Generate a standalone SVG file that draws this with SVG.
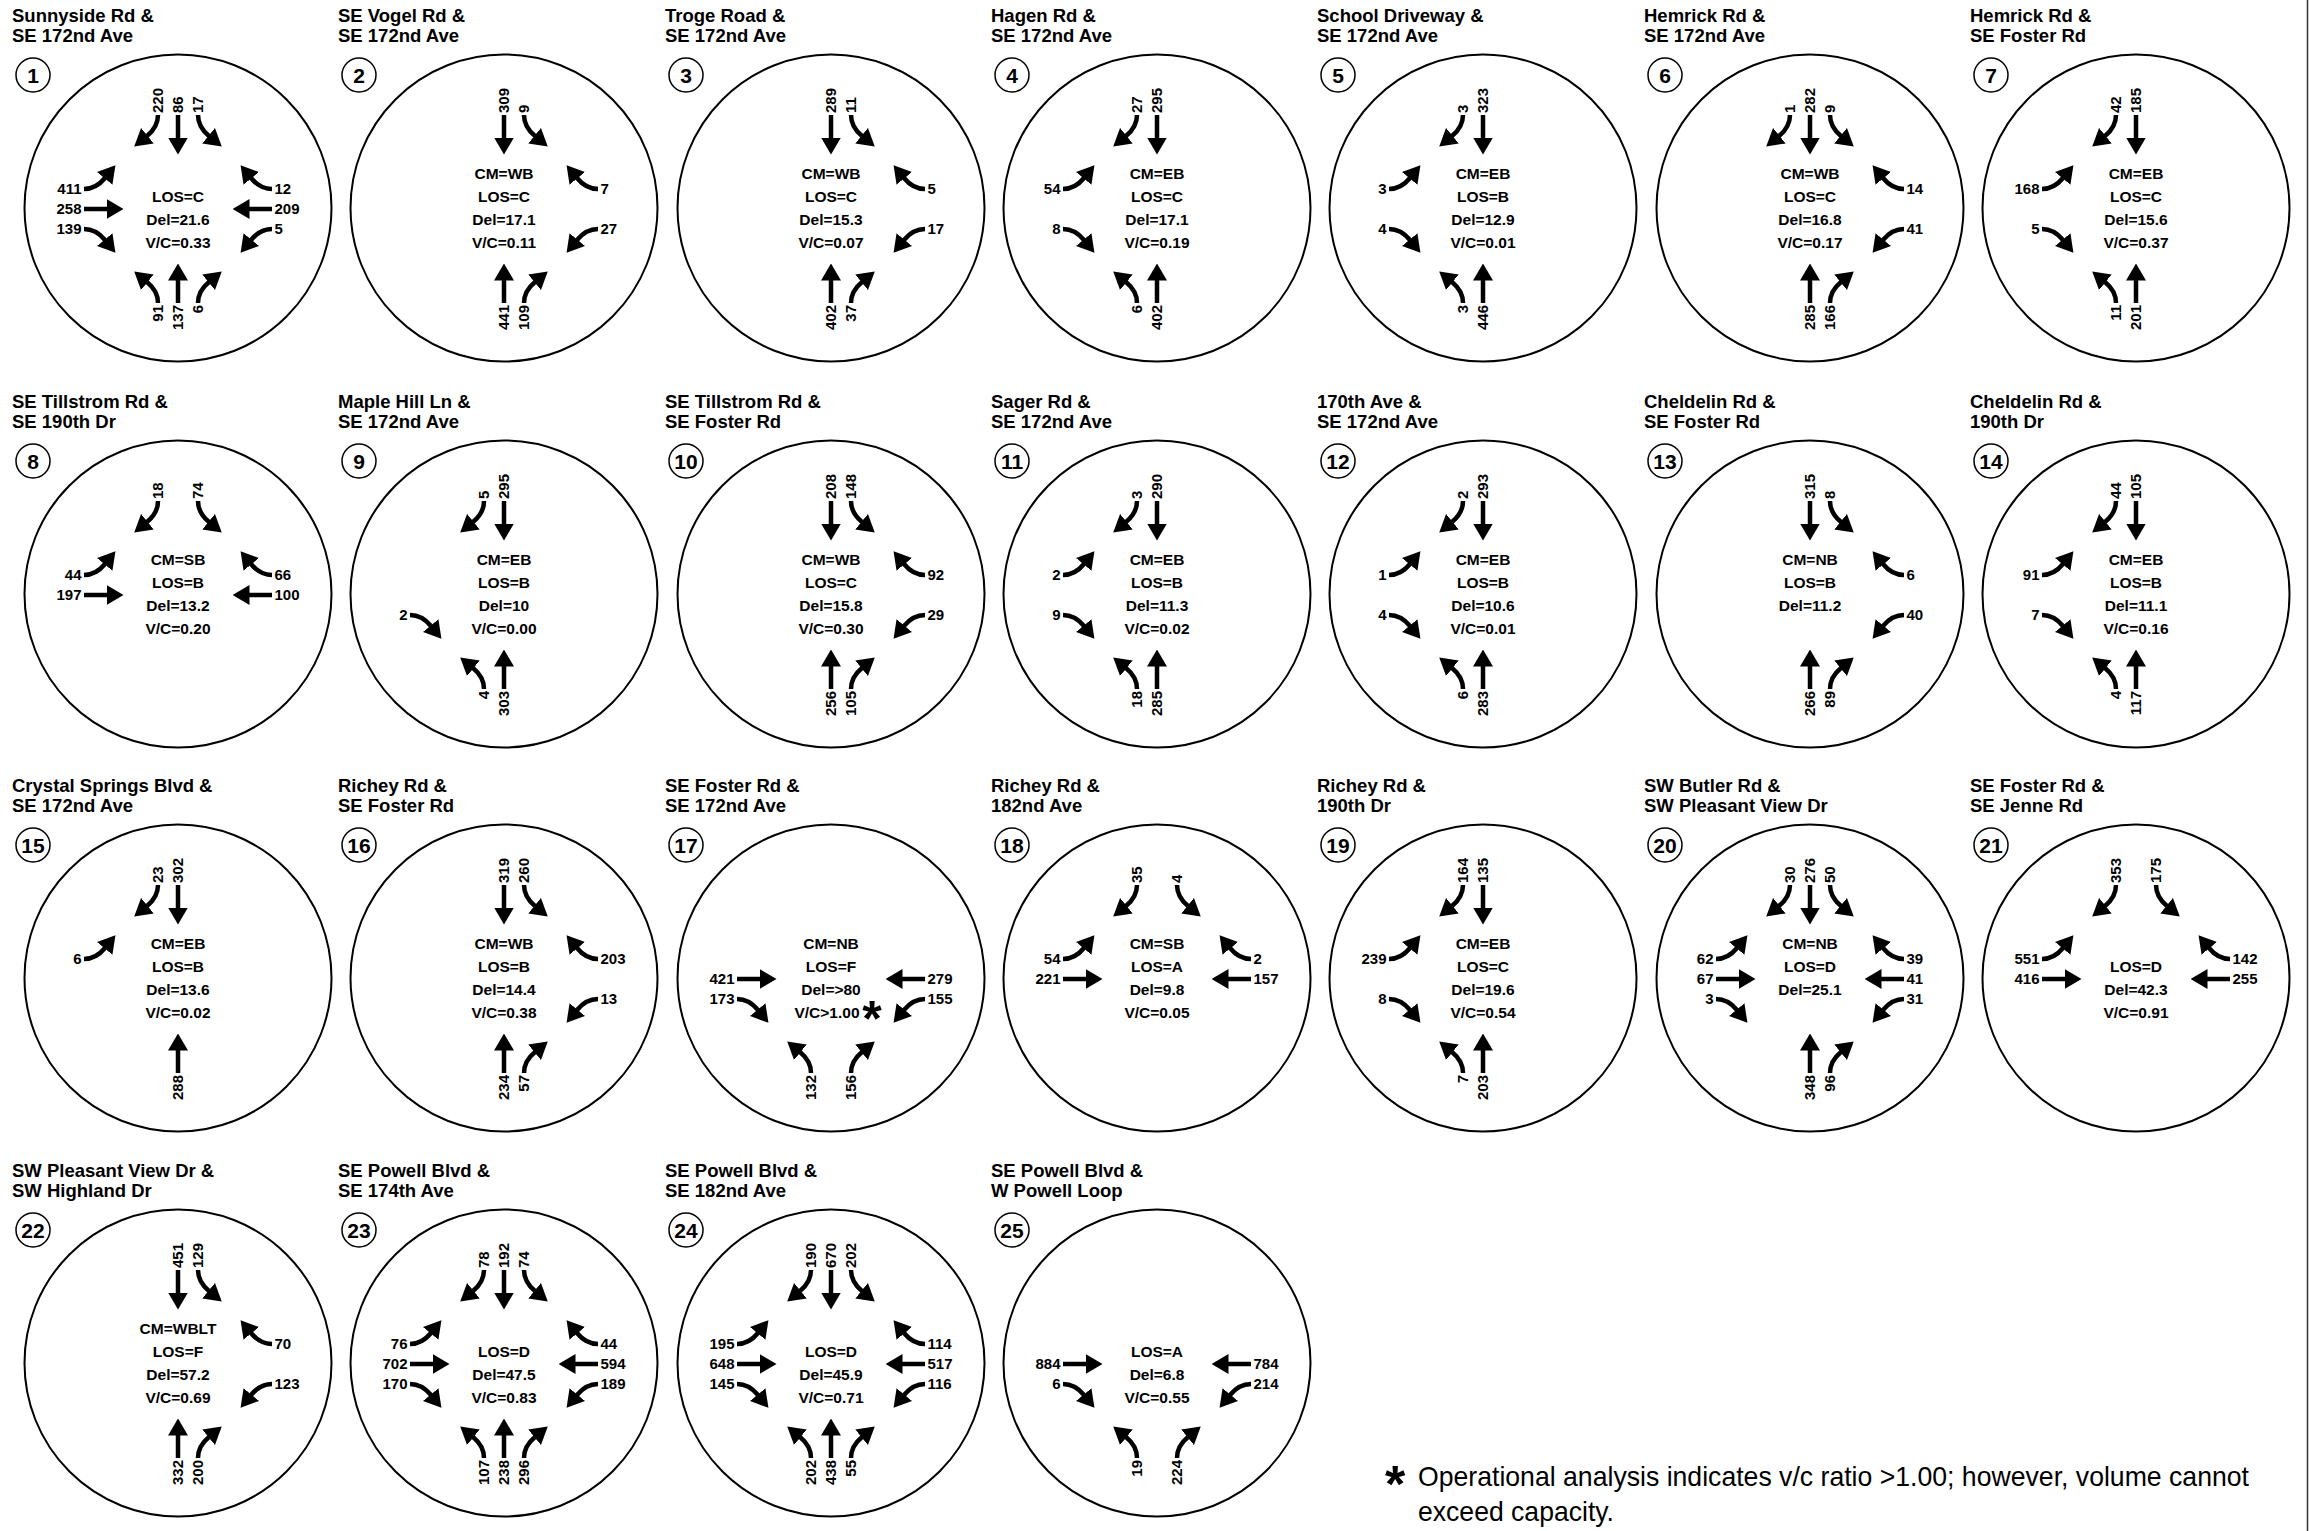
<svg xmlns="http://www.w3.org/2000/svg" xmlns:xlink="http://www.w3.org/1999/xlink" width="2309" height="1531" viewBox="0 0 2309 1531">
<style>
text{font-family:"Liberation Sans",Arial,Helvetica,sans-serif;font-weight:bold;fill:#000}
.t{font-size:18.5px}
.c{font-size:15.5px;text-anchor:middle}
.l{font-size:15px}
.e{text-anchor:end}
.n{font-size:21px;text-anchor:middle}
.ring{fill:none;stroke:#000;stroke-width:2}
.badge{fill:none;stroke:#000;stroke-width:1.5}
.ar{fill:none;stroke:#000;stroke-width:4.5;marker-end:url(#ah)}
.fn{font-weight:normal;font-size:28px}
.ast{text-anchor:middle}
</style>
<defs>
<marker id="ah" viewBox="0 0 17 20" markerWidth="17" markerHeight="20" refX="0.5" refY="10" orient="auto" markerUnits="userSpaceOnUse"><path d="M0,0 L17,10 L0,20 z" fill="#000"/></marker>
<path id="Na" d="M-20,-94 Q-20,-82 -31,-73"/>
<path id="Nt" d="M0,-94 L0,-71"/>
<path id="Nb" d="M20,-94 Q20,-82 31,-73"/>
<path id="Sa" d="M-20,94 Q-20,82 -31,73"/>
<path id="St" d="M0,94 L0,71"/>
<path id="Sb" d="M20,94 Q20,82 31,73"/>
<path id="Wa" d="M-94,-20 Q-82,-20 -73,-31"/>
<path id="Wt" d="M-94,0 L-71,0"/>
<path id="Wb" d="M-94,20 Q-82,20 -73,31"/>
<path id="Ea" d="M94,-20 Q82,-20 73,-31"/>
<path id="Et" d="M94,0 L71,0"/>
<path id="Eb" d="M94,20 Q82,20 73,31"/>
</defs>
<rect width="2309" height="1531" fill="#fff"/>
<line x1="2307.5" y1="0" x2="2307.5" y2="1531" stroke="#333" stroke-width="1.5"/>
<g id="nodes">

<g id="node1" transform="translate(178,208)">
<circle class="ring" r="153.5"/>
<text class="t" x="-166" y="-186">Sunnyside Rd &amp;</text><text class="t" x="-166" y="-166.5">SE 172nd Ave</text>
<circle class="badge" cx="-145" cy="-133" r="17"/><text class="n" x="-145" y="-125.5">1</text>
<text class="c" y="-6">LOS=C</text><text class="c" y="17">Del=21.6</text><text class="c" y="40">V/C=0.33</text>
<g class="ar" transform="translate(0,1)"><use href="#Na"/><use href="#Nt"/><use href="#Nb"/><use href="#Wa"/><use href="#Wt"/><use href="#Wb"/><use href="#Ea"/><use href="#Et"/><use href="#Eb"/><use href="#Sa"/><use href="#St"/><use href="#Sb"/></g>
<text class="l" transform="translate(-14.7,-95) rotate(-90)">220</text><text class="l" transform="translate(5.3,-95) rotate(-90)">86</text><text class="l" transform="translate(25.3,-95) rotate(-90)">17</text>
<text class="l e" x="-96.5" y="-13.7">411</text><text class="l e" x="-96.5" y="6.3">258</text><text class="l e" x="-96.5" y="26.3">139</text>
<text class="l" x="96.5" y="-13.7">12</text><text class="l" x="96.5" y="6.3">209</text><text class="l" x="96.5" y="26.3">5</text>
<text class="l e" transform="translate(-14.7,97) rotate(-90)">91</text><text class="l e" transform="translate(5.3,97) rotate(-90)">137</text><text class="l e" transform="translate(25.3,97) rotate(-90)">6</text>
</g>

<g id="node2" transform="translate(504,208)">
<circle class="ring" r="153.5"/>
<text class="t" x="-166" y="-186">SE Vogel Rd &amp;</text><text class="t" x="-166" y="-166.5">SE 172nd Ave</text>
<circle class="badge" cx="-145" cy="-133" r="17"/><text class="n" x="-145" y="-125.5">2</text>
<text class="c" y="-29">CM=WB</text><text class="c" y="-6">LOS=C</text><text class="c" y="17">Del=17.1</text><text class="c" y="40">V/C=0.11</text>
<g class="ar" transform="translate(0,1)"><use href="#Nt"/><use href="#Nb"/><use href="#Ea"/><use href="#Eb"/><use href="#St"/><use href="#Sb"/></g>
<text class="l" transform="translate(5.3,-95) rotate(-90)">309</text><text class="l" transform="translate(25.3,-95) rotate(-90)">9</text>
<text class="l" x="96.5" y="-13.7">7</text><text class="l" x="96.5" y="26.3">27</text>
<text class="l e" transform="translate(5.3,97) rotate(-90)">441</text><text class="l e" transform="translate(25.3,97) rotate(-90)">109</text>
</g>

<g id="node3" transform="translate(831,208)">
<circle class="ring" r="153.5"/>
<text class="t" x="-166" y="-186">Troge Road &amp;</text><text class="t" x="-166" y="-166.5">SE 172nd Ave</text>
<circle class="badge" cx="-145" cy="-133" r="17"/><text class="n" x="-145" y="-125.5">3</text>
<text class="c" y="-29">CM=WB</text><text class="c" y="-6">LOS=C</text><text class="c" y="17">Del=15.3</text><text class="c" y="40">V/C=0.07</text>
<g class="ar" transform="translate(0,1)"><use href="#Nt"/><use href="#Nb"/><use href="#Ea"/><use href="#Eb"/><use href="#St"/><use href="#Sb"/></g>
<text class="l" transform="translate(5.3,-95) rotate(-90)">289</text><text class="l" transform="translate(25.3,-95) rotate(-90)">11</text>
<text class="l" x="96.5" y="-13.7">5</text><text class="l" x="96.5" y="26.3">17</text>
<text class="l e" transform="translate(5.3,97) rotate(-90)">402</text><text class="l e" transform="translate(25.3,97) rotate(-90)">37</text>
</g>

<g id="node4" transform="translate(1157,208)">
<circle class="ring" r="153.5"/>
<text class="t" x="-166" y="-186">Hagen Rd &amp;</text><text class="t" x="-166" y="-166.5">SE 172nd Ave</text>
<circle class="badge" cx="-145" cy="-133" r="17"/><text class="n" x="-145" y="-125.5">4</text>
<text class="c" y="-29">CM=EB</text><text class="c" y="-6">LOS=C</text><text class="c" y="17">Del=17.1</text><text class="c" y="40">V/C=0.19</text>
<g class="ar" transform="translate(0,1)"><use href="#Na"/><use href="#Nt"/><use href="#Wa"/><use href="#Wb"/><use href="#Sa"/><use href="#St"/></g>
<text class="l" transform="translate(-14.7,-95) rotate(-90)">27</text><text class="l" transform="translate(5.3,-95) rotate(-90)">295</text>
<text class="l e" x="-96.5" y="-13.7">54</text><text class="l e" x="-96.5" y="26.3">8</text>
<text class="l e" transform="translate(-14.7,97) rotate(-90)">6</text><text class="l e" transform="translate(5.3,97) rotate(-90)">402</text>
</g>

<g id="node5" transform="translate(1483,208)">
<circle class="ring" r="153.5"/>
<text class="t" x="-166" y="-186">School Driveway &amp;</text><text class="t" x="-166" y="-166.5">SE 172nd Ave</text>
<circle class="badge" cx="-145" cy="-133" r="17"/><text class="n" x="-145" y="-125.5">5</text>
<text class="c" y="-29">CM=EB</text><text class="c" y="-6">LOS=B</text><text class="c" y="17">Del=12.9</text><text class="c" y="40">V/C=0.01</text>
<g class="ar" transform="translate(0,1)"><use href="#Na"/><use href="#Nt"/><use href="#Wa"/><use href="#Wb"/><use href="#Sa"/><use href="#St"/></g>
<text class="l" transform="translate(-14.7,-95) rotate(-90)">3</text><text class="l" transform="translate(5.3,-95) rotate(-90)">323</text>
<text class="l e" x="-96.5" y="-13.7">3</text><text class="l e" x="-96.5" y="26.3">4</text>
<text class="l e" transform="translate(-14.7,97) rotate(-90)">3</text><text class="l e" transform="translate(5.3,97) rotate(-90)">446</text>
</g>

<g id="node6" transform="translate(1810,208)">
<circle class="ring" r="153.5"/>
<text class="t" x="-166" y="-186">Hemrick Rd &amp;</text><text class="t" x="-166" y="-166.5">SE 172nd Ave</text>
<circle class="badge" cx="-145" cy="-133" r="17"/><text class="n" x="-145" y="-125.5">6</text>
<text class="c" y="-29">CM=WB</text><text class="c" y="-6">LOS=C</text><text class="c" y="17">Del=16.8</text><text class="c" y="40">V/C=0.17</text>
<g class="ar" transform="translate(0,1)"><use href="#Na"/><use href="#Nt"/><use href="#Nb"/><use href="#Ea"/><use href="#Eb"/><use href="#St"/><use href="#Sb"/></g>
<text class="l" transform="translate(-14.7,-95) rotate(-90)">1</text><text class="l" transform="translate(5.3,-95) rotate(-90)">282</text><text class="l" transform="translate(25.3,-95) rotate(-90)">9</text>
<text class="l" x="96.5" y="-13.7">14</text><text class="l" x="96.5" y="26.3">41</text>
<text class="l e" transform="translate(5.3,97) rotate(-90)">285</text><text class="l e" transform="translate(25.3,97) rotate(-90)">166</text>
</g>

<g id="node7" transform="translate(2136,208)">
<circle class="ring" r="153.5"/>
<text class="t" x="-166" y="-186">Hemrick Rd &amp;</text><text class="t" x="-166" y="-166.5">SE Foster Rd</text>
<circle class="badge" cx="-145" cy="-133" r="17"/><text class="n" x="-145" y="-125.5">7</text>
<text class="c" y="-29">CM=EB</text><text class="c" y="-6">LOS=C</text><text class="c" y="17">Del=15.6</text><text class="c" y="40">V/C=0.37</text>
<g class="ar" transform="translate(0,1)"><use href="#Na"/><use href="#Nt"/><use href="#Wa"/><use href="#Wb"/><use href="#Sa"/><use href="#St"/></g>
<text class="l" transform="translate(-14.7,-95) rotate(-90)">42</text><text class="l" transform="translate(5.3,-95) rotate(-90)">185</text>
<text class="l e" x="-96.5" y="-13.7">168</text><text class="l e" x="-96.5" y="26.3">5</text>
<text class="l e" transform="translate(-14.7,97) rotate(-90)">11</text><text class="l e" transform="translate(5.3,97) rotate(-90)">201</text>
</g>

<g id="node8" transform="translate(178,594)">
<circle class="ring" r="153.5"/>
<text class="t" x="-166" y="-186">SE Tillstrom Rd &amp;</text><text class="t" x="-166" y="-166.5">SE 190th Dr</text>
<circle class="badge" cx="-145" cy="-133" r="17"/><text class="n" x="-145" y="-125.5">8</text>
<text class="c" y="-29">CM=SB</text><text class="c" y="-6">LOS=B</text><text class="c" y="17">Del=13.2</text><text class="c" y="40">V/C=0.20</text>
<g class="ar" transform="translate(0,1)"><use href="#Na"/><use href="#Nb"/><use href="#Wa"/><use href="#Wt"/><use href="#Ea"/><use href="#Et"/></g>
<text class="l" transform="translate(-14.7,-95) rotate(-90)">18</text><text class="l" transform="translate(25.3,-95) rotate(-90)">74</text>
<text class="l e" x="-96.5" y="-13.7">44</text><text class="l e" x="-96.5" y="6.3">197</text>
<text class="l" x="96.5" y="-13.7">66</text><text class="l" x="96.5" y="6.3">100</text>
</g>

<g id="node9" transform="translate(504,594)">
<circle class="ring" r="153.5"/>
<text class="t" x="-166" y="-186">Maple Hill Ln &amp;</text><text class="t" x="-166" y="-166.5">SE 172nd Ave</text>
<circle class="badge" cx="-145" cy="-133" r="17"/><text class="n" x="-145" y="-125.5">9</text>
<text class="c" y="-29">CM=EB</text><text class="c" y="-6">LOS=B</text><text class="c" y="17">Del=10</text><text class="c" y="40">V/C=0.00</text>
<g class="ar" transform="translate(0,1)"><use href="#Na"/><use href="#Nt"/><use href="#Wb"/><use href="#Sa"/><use href="#St"/></g>
<text class="l" transform="translate(-14.7,-95) rotate(-90)">5</text><text class="l" transform="translate(5.3,-95) rotate(-90)">295</text>
<text class="l e" x="-96.5" y="26.3">2</text>
<text class="l e" transform="translate(-14.7,97) rotate(-90)">4</text><text class="l e" transform="translate(5.3,97) rotate(-90)">303</text>
</g>

<g id="node10" transform="translate(831,594)">
<circle class="ring" r="153.5"/>
<text class="t" x="-166" y="-186">SE Tillstrom Rd &amp;</text><text class="t" x="-166" y="-166.5">SE Foster Rd</text>
<circle class="badge" cx="-145" cy="-133" r="17"/><text class="n" x="-145" y="-125.5">10</text>
<text class="c" y="-29">CM=WB</text><text class="c" y="-6">LOS=C</text><text class="c" y="17">Del=15.8</text><text class="c" y="40">V/C=0.30</text>
<g class="ar" transform="translate(0,1)"><use href="#Nt"/><use href="#Nb"/><use href="#Ea"/><use href="#Eb"/><use href="#St"/><use href="#Sb"/></g>
<text class="l" transform="translate(5.3,-95) rotate(-90)">208</text><text class="l" transform="translate(25.3,-95) rotate(-90)">148</text>
<text class="l" x="96.5" y="-13.7">92</text><text class="l" x="96.5" y="26.3">29</text>
<text class="l e" transform="translate(5.3,97) rotate(-90)">256</text><text class="l e" transform="translate(25.3,97) rotate(-90)">105</text>
</g>

<g id="node11" transform="translate(1157,594)">
<circle class="ring" r="153.5"/>
<text class="t" x="-166" y="-186">Sager Rd &amp;</text><text class="t" x="-166" y="-166.5">SE 172nd Ave</text>
<circle class="badge" cx="-145" cy="-133" r="17"/><text class="n" x="-145" y="-125.5">11</text>
<text class="c" y="-29">CM=EB</text><text class="c" y="-6">LOS=B</text><text class="c" y="17">Del=11.3</text><text class="c" y="40">V/C=0.02</text>
<g class="ar" transform="translate(0,1)"><use href="#Na"/><use href="#Nt"/><use href="#Wa"/><use href="#Wb"/><use href="#Sa"/><use href="#St"/></g>
<text class="l" transform="translate(-14.7,-95) rotate(-90)">3</text><text class="l" transform="translate(5.3,-95) rotate(-90)">290</text>
<text class="l e" x="-96.5" y="-13.7">2</text><text class="l e" x="-96.5" y="26.3">9</text>
<text class="l e" transform="translate(-14.7,97) rotate(-90)">18</text><text class="l e" transform="translate(5.3,97) rotate(-90)">285</text>
</g>

<g id="node12" transform="translate(1483,594)">
<circle class="ring" r="153.5"/>
<text class="t" x="-166" y="-186">170th Ave &amp;</text><text class="t" x="-166" y="-166.5">SE 172nd Ave</text>
<circle class="badge" cx="-145" cy="-133" r="17"/><text class="n" x="-145" y="-125.5">12</text>
<text class="c" y="-29">CM=EB</text><text class="c" y="-6">LOS=B</text><text class="c" y="17">Del=10.6</text><text class="c" y="40">V/C=0.01</text>
<g class="ar" transform="translate(0,1)"><use href="#Na"/><use href="#Nt"/><use href="#Wa"/><use href="#Wb"/><use href="#Sa"/><use href="#St"/></g>
<text class="l" transform="translate(-14.7,-95) rotate(-90)">2</text><text class="l" transform="translate(5.3,-95) rotate(-90)">293</text>
<text class="l e" x="-96.5" y="-13.7">1</text><text class="l e" x="-96.5" y="26.3">4</text>
<text class="l e" transform="translate(-14.7,97) rotate(-90)">6</text><text class="l e" transform="translate(5.3,97) rotate(-90)">283</text>
</g>

<g id="node13" transform="translate(1810,594)">
<circle class="ring" r="153.5"/>
<text class="t" x="-166" y="-186">Cheldelin Rd &amp;</text><text class="t" x="-166" y="-166.5">SE Foster Rd</text>
<circle class="badge" cx="-145" cy="-133" r="17"/><text class="n" x="-145" y="-125.5">13</text>
<text class="c" y="-29">CM=NB</text><text class="c" y="-6">LOS=B</text><text class="c" y="17">Del=11.2</text>
<g class="ar" transform="translate(0,1)"><use href="#Nt"/><use href="#Nb"/><use href="#Ea"/><use href="#Eb"/><use href="#St"/><use href="#Sb"/></g>
<text class="l" transform="translate(5.3,-95) rotate(-90)">315</text><text class="l" transform="translate(25.3,-95) rotate(-90)">8</text>
<text class="l" x="96.5" y="-13.7">6</text><text class="l" x="96.5" y="26.3">40</text>
<text class="l e" transform="translate(5.3,97) rotate(-90)">266</text><text class="l e" transform="translate(25.3,97) rotate(-90)">89</text>
</g>

<g id="node14" transform="translate(2136,594)">
<circle class="ring" r="153.5"/>
<text class="t" x="-166" y="-186">Cheldelin Rd &amp;</text><text class="t" x="-166" y="-166.5">190th Dr</text>
<circle class="badge" cx="-145" cy="-133" r="17"/><text class="n" x="-145" y="-125.5">14</text>
<text class="c" y="-29">CM=EB</text><text class="c" y="-6">LOS=B</text><text class="c" y="17">Del=11.1</text><text class="c" y="40">V/C=0.16</text>
<g class="ar" transform="translate(0,1)"><use href="#Na"/><use href="#Nt"/><use href="#Wa"/><use href="#Wb"/><use href="#Sa"/><use href="#St"/></g>
<text class="l" transform="translate(-14.7,-95) rotate(-90)">44</text><text class="l" transform="translate(5.3,-95) rotate(-90)">105</text>
<text class="l e" x="-96.5" y="-13.7">91</text><text class="l e" x="-96.5" y="26.3">7</text>
<text class="l e" transform="translate(-14.7,97) rotate(-90)">4</text><text class="l e" transform="translate(5.3,97) rotate(-90)">117</text>
</g>

<g id="node15" transform="translate(178,978)">
<circle class="ring" r="153.5"/>
<text class="t" x="-166" y="-186">Crystal Springs Blvd &amp;</text><text class="t" x="-166" y="-166.5">SE 172nd Ave</text>
<circle class="badge" cx="-145" cy="-133" r="17"/><text class="n" x="-145" y="-125.5">15</text>
<text class="c" y="-29">CM=EB</text><text class="c" y="-6">LOS=B</text><text class="c" y="17">Del=13.6</text><text class="c" y="40">V/C=0.02</text>
<g class="ar" transform="translate(0,1)"><use href="#Na"/><use href="#Nt"/><use href="#Wa"/><use href="#St"/></g>
<text class="l" transform="translate(-14.7,-95) rotate(-90)">23</text><text class="l" transform="translate(5.3,-95) rotate(-90)">302</text>
<text class="l e" x="-96.5" y="-13.7">6</text>
<text class="l e" transform="translate(5.3,97) rotate(-90)">288</text>
</g>

<g id="node16" transform="translate(504,978)">
<circle class="ring" r="153.5"/>
<text class="t" x="-166" y="-186">Richey Rd &amp;</text><text class="t" x="-166" y="-166.5">SE Foster Rd</text>
<circle class="badge" cx="-145" cy="-133" r="17"/><text class="n" x="-145" y="-125.5">16</text>
<text class="c" y="-29">CM=WB</text><text class="c" y="-6">LOS=B</text><text class="c" y="17">Del=14.4</text><text class="c" y="40">V/C=0.38</text>
<g class="ar" transform="translate(0,1)"><use href="#Nt"/><use href="#Nb"/><use href="#Ea"/><use href="#Eb"/><use href="#St"/><use href="#Sb"/></g>
<text class="l" transform="translate(5.3,-95) rotate(-90)">319</text><text class="l" transform="translate(25.3,-95) rotate(-90)">260</text>
<text class="l" x="96.5" y="-13.7">203</text><text class="l" x="96.5" y="26.3">13</text>
<text class="l e" transform="translate(5.3,97) rotate(-90)">234</text><text class="l e" transform="translate(25.3,97) rotate(-90)">57</text>
</g>

<g id="node17" transform="translate(831,978)">
<circle class="ring" r="153.5"/>
<text class="t" x="-166" y="-186">SE Foster Rd &amp;</text><text class="t" x="-166" y="-166.5">SE 172nd Ave</text>
<circle class="badge" cx="-145" cy="-133" r="17"/><text class="n" x="-145" y="-125.5">17</text>
<text class="c" y="-29">CM=NB</text><text class="c" y="-6">LOS=F</text><text class="c" y="17">Del=&gt;80</text><text class="c" x="-4" y="40">V/C&gt;1.00</text>
<text class="ast" x="41" y="58" style="font-size:50px">*</text>
<g class="ar" transform="translate(0,1)"><use href="#Wt"/><use href="#Wb"/><use href="#Et"/><use href="#Eb"/><use href="#Sa"/><use href="#Sb"/></g>
<text class="l e" x="-96.5" y="6.3">421</text><text class="l e" x="-96.5" y="26.3">173</text>
<text class="l" x="96.5" y="6.3">279</text><text class="l" x="96.5" y="26.3">155</text>
<text class="l e" transform="translate(-14.7,97) rotate(-90)">132</text><text class="l e" transform="translate(25.3,97) rotate(-90)">156</text>
</g>

<g id="node18" transform="translate(1157,978)">
<circle class="ring" r="153.5"/>
<text class="t" x="-166" y="-186">Richey Rd &amp;</text><text class="t" x="-166" y="-166.5">182nd Ave</text>
<circle class="badge" cx="-145" cy="-133" r="17"/><text class="n" x="-145" y="-125.5">18</text>
<text class="c" y="-29">CM=SB</text><text class="c" y="-6">LOS=A</text><text class="c" y="17">Del=9.8</text><text class="c" y="40">V/C=0.05</text>
<g class="ar" transform="translate(0,1)"><use href="#Na"/><use href="#Nb"/><use href="#Wa"/><use href="#Wt"/><use href="#Ea"/><use href="#Et"/></g>
<text class="l" transform="translate(-14.7,-95) rotate(-90)">35</text><text class="l" transform="translate(25.3,-95) rotate(-90)">4</text>
<text class="l e" x="-96.5" y="-13.7">54</text><text class="l e" x="-96.5" y="6.3">221</text>
<text class="l" x="96.5" y="-13.7">2</text><text class="l" x="96.5" y="6.3">157</text>
</g>

<g id="node19" transform="translate(1483,978)">
<circle class="ring" r="153.5"/>
<text class="t" x="-166" y="-186">Richey Rd &amp;</text><text class="t" x="-166" y="-166.5">190th Dr</text>
<circle class="badge" cx="-145" cy="-133" r="17"/><text class="n" x="-145" y="-125.5">19</text>
<text class="c" y="-29">CM=EB</text><text class="c" y="-6">LOS=C</text><text class="c" y="17">Del=19.6</text><text class="c" y="40">V/C=0.54</text>
<g class="ar" transform="translate(0,1)"><use href="#Na"/><use href="#Nt"/><use href="#Wa"/><use href="#Wb"/><use href="#Sa"/><use href="#St"/></g>
<text class="l" transform="translate(-14.7,-95) rotate(-90)">164</text><text class="l" transform="translate(5.3,-95) rotate(-90)">135</text>
<text class="l e" x="-96.5" y="-13.7">239</text><text class="l e" x="-96.5" y="26.3">8</text>
<text class="l e" transform="translate(-14.7,97) rotate(-90)">7</text><text class="l e" transform="translate(5.3,97) rotate(-90)">203</text>
</g>

<g id="node20" transform="translate(1810,978)">
<circle class="ring" r="153.5"/>
<text class="t" x="-166" y="-186">SW Butler Rd &amp;</text><text class="t" x="-166" y="-166.5">SW Pleasant View Dr</text>
<circle class="badge" cx="-145" cy="-133" r="17"/><text class="n" x="-145" y="-125.5">20</text>
<text class="c" y="-29">CM=NB</text><text class="c" y="-6">LOS=D</text><text class="c" y="17">Del=25.1</text>
<g class="ar" transform="translate(0,1)"><use href="#Na"/><use href="#Nt"/><use href="#Nb"/><use href="#Wa"/><use href="#Wt"/><use href="#Wb"/><use href="#Ea"/><use href="#Et"/><use href="#Eb"/><use href="#St"/><use href="#Sb"/></g>
<text class="l" transform="translate(-14.7,-95) rotate(-90)">30</text><text class="l" transform="translate(5.3,-95) rotate(-90)">276</text><text class="l" transform="translate(25.3,-95) rotate(-90)">50</text>
<text class="l e" x="-96.5" y="-13.7">62</text><text class="l e" x="-96.5" y="6.3">67</text><text class="l e" x="-96.5" y="26.3">3</text>
<text class="l" x="96.5" y="-13.7">39</text><text class="l" x="96.5" y="6.3">41</text><text class="l" x="96.5" y="26.3">31</text>
<text class="l e" transform="translate(5.3,97) rotate(-90)">348</text><text class="l e" transform="translate(25.3,97) rotate(-90)">96</text>
</g>

<g id="node21" transform="translate(2136,978)">
<circle class="ring" r="153.5"/>
<text class="t" x="-166" y="-186">SE Foster Rd &amp;</text><text class="t" x="-166" y="-166.5">SE Jenne Rd</text>
<circle class="badge" cx="-145" cy="-133" r="17"/><text class="n" x="-145" y="-125.5">21</text>
<text class="c" y="-6">LOS=D</text><text class="c" y="17">Del=42.3</text><text class="c" y="40">V/C=0.91</text>
<g class="ar" transform="translate(0,1)"><use href="#Na"/><use href="#Nb"/><use href="#Wa"/><use href="#Wt"/><use href="#Ea"/><use href="#Et"/></g>
<text class="l" transform="translate(-14.7,-95) rotate(-90)">353</text><text class="l" transform="translate(25.3,-95) rotate(-90)">175</text>
<text class="l e" x="-96.5" y="-13.7">551</text><text class="l e" x="-96.5" y="6.3">416</text>
<text class="l" x="96.5" y="-13.7">142</text><text class="l" x="96.5" y="6.3">255</text>
</g>

<g id="node22" transform="translate(178,1363)">
<circle class="ring" r="153.5"/>
<text class="t" x="-166" y="-186">SW Pleasant View Dr &amp;</text><text class="t" x="-166" y="-166.5">SW Highland Dr</text>
<circle class="badge" cx="-145" cy="-133" r="17"/><text class="n" x="-145" y="-125.5">22</text>
<text class="c" y="-29">CM=WBLT</text><text class="c" y="-6">LOS=F</text><text class="c" y="17">Del=57.2</text><text class="c" y="40">V/C=0.69</text>
<g class="ar" transform="translate(0,1)"><use href="#Nt"/><use href="#Nb"/><use href="#Ea"/><use href="#Eb"/><use href="#St"/><use href="#Sb"/></g>
<text class="l" transform="translate(5.3,-95) rotate(-90)">451</text><text class="l" transform="translate(25.3,-95) rotate(-90)">129</text>
<text class="l" x="96.5" y="-13.7">70</text><text class="l" x="96.5" y="26.3">123</text>
<text class="l e" transform="translate(5.3,97) rotate(-90)">332</text><text class="l e" transform="translate(25.3,97) rotate(-90)">200</text>
</g>

<g id="node23" transform="translate(504,1363)">
<circle class="ring" r="153.5"/>
<text class="t" x="-166" y="-186">SE Powell Blvd &amp;</text><text class="t" x="-166" y="-166.5">SE 174th Ave</text>
<circle class="badge" cx="-145" cy="-133" r="17"/><text class="n" x="-145" y="-125.5">23</text>
<text class="c" y="-6">LOS=D</text><text class="c" y="17">Del=47.5</text><text class="c" y="40">V/C=0.83</text>
<g class="ar" transform="translate(0,1)"><use href="#Na"/><use href="#Nt"/><use href="#Nb"/><use href="#Wa"/><use href="#Wt"/><use href="#Wb"/><use href="#Ea"/><use href="#Et"/><use href="#Eb"/><use href="#Sa"/><use href="#St"/><use href="#Sb"/></g>
<text class="l" transform="translate(-14.7,-95) rotate(-90)">78</text><text class="l" transform="translate(5.3,-95) rotate(-90)">192</text><text class="l" transform="translate(25.3,-95) rotate(-90)">74</text>
<text class="l e" x="-96.5" y="-13.7">76</text><text class="l e" x="-96.5" y="6.3">702</text><text class="l e" x="-96.5" y="26.3">170</text>
<text class="l" x="96.5" y="-13.7">44</text><text class="l" x="96.5" y="6.3">594</text><text class="l" x="96.5" y="26.3">189</text>
<text class="l e" transform="translate(-14.7,97) rotate(-90)">107</text><text class="l e" transform="translate(5.3,97) rotate(-90)">238</text><text class="l e" transform="translate(25.3,97) rotate(-90)">296</text>
</g>

<g id="node24" transform="translate(831,1363)">
<circle class="ring" r="153.5"/>
<text class="t" x="-166" y="-186">SE Powell Blvd &amp;</text><text class="t" x="-166" y="-166.5">SE 182nd Ave</text>
<circle class="badge" cx="-145" cy="-133" r="17"/><text class="n" x="-145" y="-125.5">24</text>
<text class="c" y="-6">LOS=D</text><text class="c" y="17">Del=45.9</text><text class="c" y="40">V/C=0.71</text>
<g class="ar" transform="translate(0,1)"><use href="#Na"/><use href="#Nt"/><use href="#Nb"/><use href="#Wa"/><use href="#Wt"/><use href="#Wb"/><use href="#Ea"/><use href="#Et"/><use href="#Eb"/><use href="#Sa"/><use href="#St"/><use href="#Sb"/></g>
<text class="l" transform="translate(-14.7,-95) rotate(-90)">190</text><text class="l" transform="translate(5.3,-95) rotate(-90)">670</text><text class="l" transform="translate(25.3,-95) rotate(-90)">202</text>
<text class="l e" x="-96.5" y="-13.7">195</text><text class="l e" x="-96.5" y="6.3">648</text><text class="l e" x="-96.5" y="26.3">145</text>
<text class="l" x="96.5" y="-13.7">114</text><text class="l" x="96.5" y="6.3">517</text><text class="l" x="96.5" y="26.3">116</text>
<text class="l e" transform="translate(-14.7,97) rotate(-90)">202</text><text class="l e" transform="translate(5.3,97) rotate(-90)">438</text><text class="l e" transform="translate(25.3,97) rotate(-90)">55</text>
</g>

<g id="node25" transform="translate(1157,1363)">
<circle class="ring" r="153.5"/>
<text class="t" x="-166" y="-186">SE Powell Blvd &amp;</text><text class="t" x="-166" y="-166.5">W Powell Loop</text>
<circle class="badge" cx="-145" cy="-133" r="17"/><text class="n" x="-145" y="-125.5">25</text>
<text class="c" y="-6">LOS=A</text><text class="c" y="17">Del=6.8</text><text class="c" y="40">V/C=0.55</text>
<g class="ar" transform="translate(0,1)"><use href="#Wt"/><use href="#Wb"/><use href="#Et"/><use href="#Eb"/><use href="#Sa"/><use href="#Sb"/></g>
<text class="l e" x="-96.5" y="6.3">884</text><text class="l e" x="-96.5" y="26.3">6</text>
<text class="l" x="96.5" y="6.3">784</text><text class="l" x="96.5" y="26.3">214</text>
<text class="l e" transform="translate(-14.7,97) rotate(-90)">19</text><text class="l e" transform="translate(25.3,97) rotate(-90)">224</text>
</g>

</g>
<g id="footnote">
<text class="ast" x="1395" y="1502" style="font-size:52px">*</text>
<text class="fn" x="1418" y="1486" textLength="831" lengthAdjust="spacingAndGlyphs">Operational analysis indicates v/c ratio &gt;1.00; however, volume cannot</text>
<text class="fn" x="1418" y="1521" textLength="196" lengthAdjust="spacingAndGlyphs">exceed capacity.</text>
</g>
</svg>
